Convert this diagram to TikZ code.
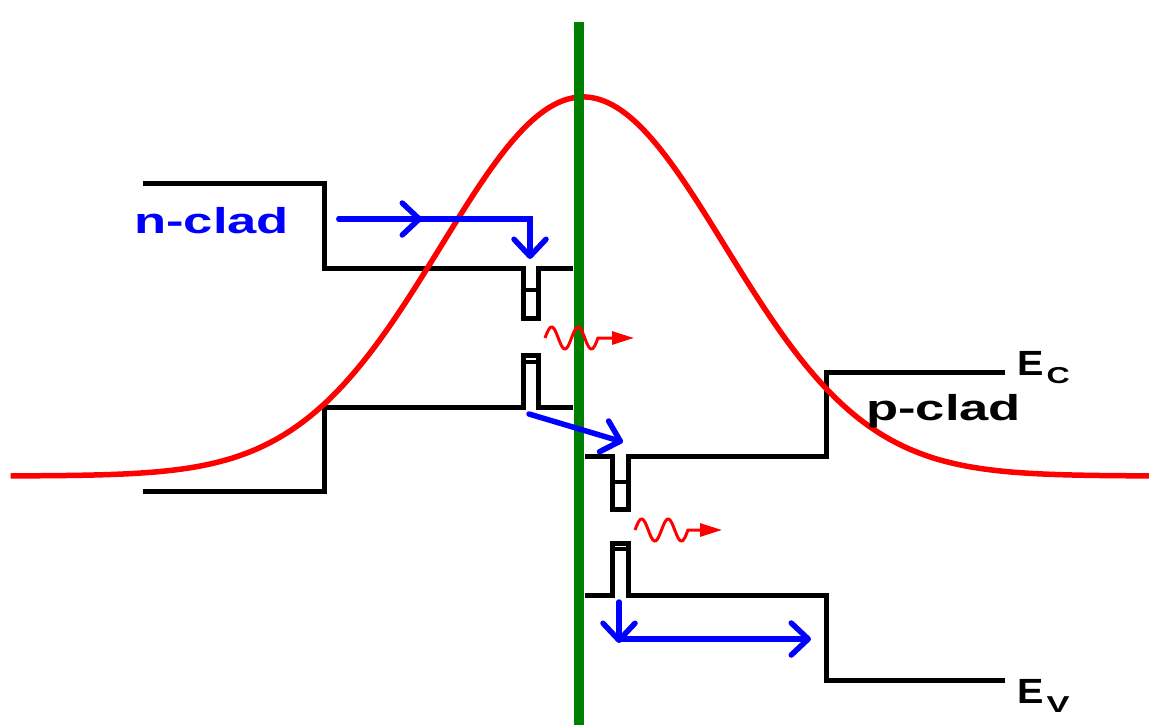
\documentclass[tikz,border=0pt]{standalone}
\usepackage{fontspec}
\setmainfont{Liberation Sans}
\usetikzlibrary{arrows.meta}
\definecolor{dgreen}{RGB}{0,128,0}
\begin{document}
\begin{tikzpicture}[x=1pt,y=-1pt,
  band/.style={line width=5pt, black},
  level/.style={line width=4pt, black},
  mode/.style={red, line width=5.5pt},
  junction/.style={dgreen, line width=10pt},
  photon/.style={red, line width=3pt, -{Triangle[length=22pt,width=13pt]}},
  carrier/.style={blue, line width=5.5pt, line cap=round, -{Straight Barb[length=17pt,width=32pt,round]}},
  lbl/.style={anchor=base west, inner sep=0pt, font=\fontsize{36}{36}\selectfont\bfseries}]
\useasboundingbox (0,0) rectangle (1149,725);

% band edges
\draw[band] (143,183) -- (324,183) -- (324,268) -- (523,268) -- (523,318) -- (538,318) -- (538,268) -- (573,268);
\draw[level] (523,290) -- (538,290);
\draw[band] (143,491) -- (324,491) -- (324,407) -- (523,407) -- (523,355) -- (538,355) -- (538,407) -- (573,407);
\draw[level] (523,362) -- (538,362);
\draw[band] (585,456) -- (612,456) -- (612,509) -- (628,509) -- (628,456) -- (826,456) -- (826,372) -- (1005,372);
\draw[level] (612,482) -- (628,482);
\draw[band] (585,595) -- (612,595) -- (612,543) -- (628,543) -- (628,595) -- (826,595) -- (826,680) -- (1005,680);
\draw[level] (612,549) -- (628,549);

% optical mode
\draw[mode] plot[domain=-4.03:4.02, samples=240, smooth] ({583+142*\x}, {476-379*exp(-0.5*\x*\x)});

% junction
\coordinate (jt) at (579,22);
\coordinate (jb) at (579,725);
\draw[junction] (jt) -- (jb);

% photons
\coordinate (w1t) at (634,338);
\draw[photon] plot[domain=0:2, samples=60, smooth] ({545+26.5*\x}, {338-11*sin(360*\x)}) -- (w1t);
\coordinate (w2t) at (722,530);
\draw[photon] plot[domain=0:2, samples=60, smooth] ({635+26.5*\x}, {530-11*sin(360*\x)}) -- (w2t);

% carriers
\coordinate (e0) at (339,219);
\coordinate (em) at (422,219);
\coordinate (ec) at (530,219);
\coordinate (e1) at (530,259);
\draw[carrier] (e0) -- (em);
\draw[carrier, line join=miter] (e0) -- (ec) -- (e1);
\coordinate (h0) at (529,414);
\coordinate (h1) at (623,442);
\draw[carrier] (h0) -- (h1);
\coordinate (v0) at (619,602);
\coordinate (v1) at (619,643);
\coordinate (vc) at (619,639);
\coordinate (v2) at (811,639);
\draw[carrier] (v0) -- (v1);
\draw[carrier] (vc) -- (v2);

% labels
\node[lbl, text=blue] (nclad) at (134,233) {\scalebox{1.46}[1]{n-clad}};
\node[lbl] (pclad) at (866,420) {\scalebox{1.46}[1]{p-clad}};
\node[lbl, font=\fontsize{35}{35}\selectfont\bfseries] (ecl) at (1017,375) {\scalebox{1.13}[1]{E}\hspace{3pt}\raisebox{-8pt}{\fontsize{23}{23}\selectfont\scalebox{1.4}[1]{C}}};
\node[lbl, font=\fontsize{35}{35}\selectfont\bfseries] (evl) at (1017,703) {\scalebox{1.13}[1]{E}\hspace{3pt}\raisebox{-9pt}{\fontsize{23}{23}\selectfont\scalebox{1.5}[1]{V}}};
\end{tikzpicture}
\end{document}
